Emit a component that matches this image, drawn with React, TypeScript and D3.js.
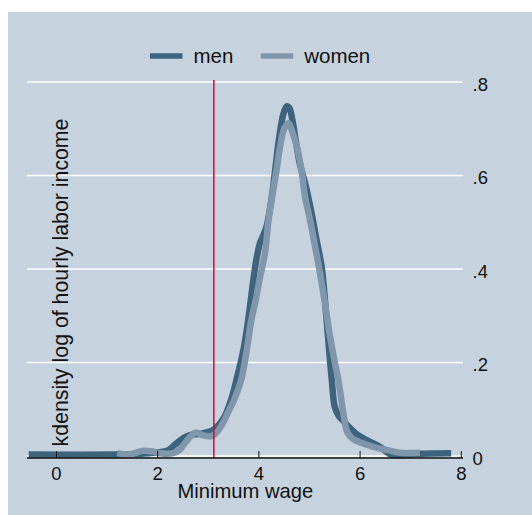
import * as d3 from "d3"

// kdensity estimates: [log hourly income, density]
const menDensity: [number, number][] = [
  [-0.55, 0.003], [1.2, 0.003], [1.6, 0.004], [2.0, 0.008], [2.2, 0.012],
  [2.35, 0.025], [2.5, 0.038], [2.65, 0.045], [2.8, 0.047], [2.95, 0.05],
  [3.1, 0.056], [3.3, 0.08], [3.45, 0.12], [3.55, 0.16], [3.7, 0.23],
  [3.8, 0.3], [3.89, 0.376], [3.95, 0.42], [4.02, 0.455], [4.08, 0.47],
  [4.15, 0.49], [4.25, 0.55], [4.32, 0.61], [4.4, 0.68], [4.48, 0.73],
  [4.55, 0.748], [4.6, 0.745], [4.66, 0.72], [4.72, 0.68], [4.8, 0.63],
  [4.87, 0.6], [4.93, 0.576], [5.04, 0.52], [5.14, 0.462], [5.24, 0.405],
  [5.3, 0.34], [5.37, 0.25], [5.44, 0.163], [5.5, 0.105], [5.58, 0.085],
  [5.67, 0.075], [5.8, 0.06], [5.95, 0.045], [6.13, 0.034], [6.39, 0.02],
  [6.59, 0.004], [6.8, 0.002], [7.2, 0.005], [7.8, 0.006],
]

const womenDensity: [number, number][] = [
  [1.2, 0.006], [1.43, 0.003], [1.7, 0.011], [1.87, 0.01], [2.04, 0.006],
  [2.3, 0.006], [2.44, 0.014], [2.57, 0.032], [2.7, 0.047], [2.77, 0.05],
  [2.9, 0.044], [3.07, 0.043], [3.2, 0.055], [3.31, 0.075], [3.42, 0.1],
  [3.51, 0.12], [3.65, 0.163], [3.75, 0.22], [3.85, 0.29], [3.95, 0.34],
  [4.01, 0.376], [4.12, 0.434], [4.19, 0.505], [4.25, 0.548], [4.34, 0.605],
  [4.42, 0.662], [4.5, 0.7], [4.58, 0.712], [4.67, 0.69], [4.75, 0.662],
  [4.85, 0.605], [4.91, 0.555], [5.01, 0.505], [5.11, 0.448], [5.21, 0.39],
  [5.3, 0.33], [5.4, 0.26], [5.5, 0.2], [5.57, 0.163], [5.67, 0.091],
  [5.75, 0.05], [5.85, 0.037], [6.13, 0.024], [6.35, 0.017], [6.53, 0.013],
  [6.79, 0.007], [7.18, 0.007],
]

const xTicks = [0, 2, 4, 6, 8]
const yTicks = [0, 0.2, 0.4, 0.6, 0.8]
const yTickLabels = ["0", ".2", ".4", ".6", ".8"]
const minimumWage = 3.11

const seriesNames = ["men", "women"]
const seriesColors = ["#3e647d", "#8097ab"]

export default function App() {
  const width = 532
  const height = 515
  const left = 27
  const right = 463
  const top = 80
  const bottom = 458
  const font = "'Liberation Sans', Arial, Helvetica, sans-serif"

  const x = d3.scaleLinear().domain([0, 8]).range([56.5, 461.3])
  const y = d3.scaleLinear().domain([0, 0.8]).range([456, 82])

  const line = d3
    .line<[number, number]>()
    .x((d) => x(d[0]))
    .y((d) => y(d[1]))
    .curve(d3.curveCatmullRom.alpha(0.5))

  const series = [menDensity, womenDensity]

  return (
    <svg
      width={width}
      height={height}
      style={{ position: "absolute", left: 0, top: 0, fontFamily: font }}
    >
      <rect x={0} y={0} width={width} height={height} fill="#ffffff" />
      <rect x={8} y={12} width={width - 8} height={height - 12} fill="#c6d3df" />

      {/* gridlines and right-hand y labels */}
      {yTicks.map((t, i) => (
        <g key={t}>
          <line x1={left} x2={right} y1={y(t)} y2={y(t)} stroke="#ffffff" strokeWidth={1.6} />
          <text x={472.5} y={y(t) + 8.5} fontSize={18.5} fill="#111">
            {yTickLabels[i]}
          </text>
        </g>
      ))}

      {/* density curves */}
      {series.map((s, i) => (
        <path
          key={seriesNames[i]}
          d={line(s) ?? ""}
          fill="none"
          stroke={seriesColors[i]}
          strokeWidth={6.5}
          strokeLinejoin="round"
          strokeLinecap="butt"
        />
      ))}

      {/* minimum wage */}
      <line
        x1={x(minimumWage)}
        x2={x(minimumWage)}
        y1={top}
        y2={bottom}
        stroke="#d4083a"
        strokeWidth={1.5}
      />

      {/* x axis */}
      <line x1={left} x2={right} y1={bottom} y2={bottom} stroke="#111" strokeWidth={1.4} />
      {xTicks.map((t) => (
        <g key={t}>
          <line x1={x(t)} x2={x(t)} y1={bottom} y2={bottom - 7} stroke="#111" strokeWidth={1} />
          <text x={x(t)} y={480} fontSize={18.5} textAnchor="middle" fill="#111">
            {t}
          </text>
        </g>
      ))}
      <text x={245.3} y={498.3} fontSize={20.2} textAnchor="middle" fill="#111">
        Minimum wage
      </text>

      {/* y title */}
      <text
        transform={`translate(68,282.5) rotate(-90)`}
        fontSize={21.3}
        textAnchor="middle"
        fill="#111"
      >
        kdensity log of hourly labor income
      </text>

      {/* legend */}
      {seriesNames.map((n, i) => {
        const kx = i === 0 ? 150 : 260.7
        return (
          <g key={n}>
            <line x1={kx} x2={kx + 32.5} y1={56} y2={56} stroke={seriesColors[i]} strokeWidth={5.5} />
            <text x={kx + 43.5} y={63.3} fontSize={20.5} fill="#111">
              {n}
            </text>
          </g>
        )
      })}
    </svg>
  )
}
